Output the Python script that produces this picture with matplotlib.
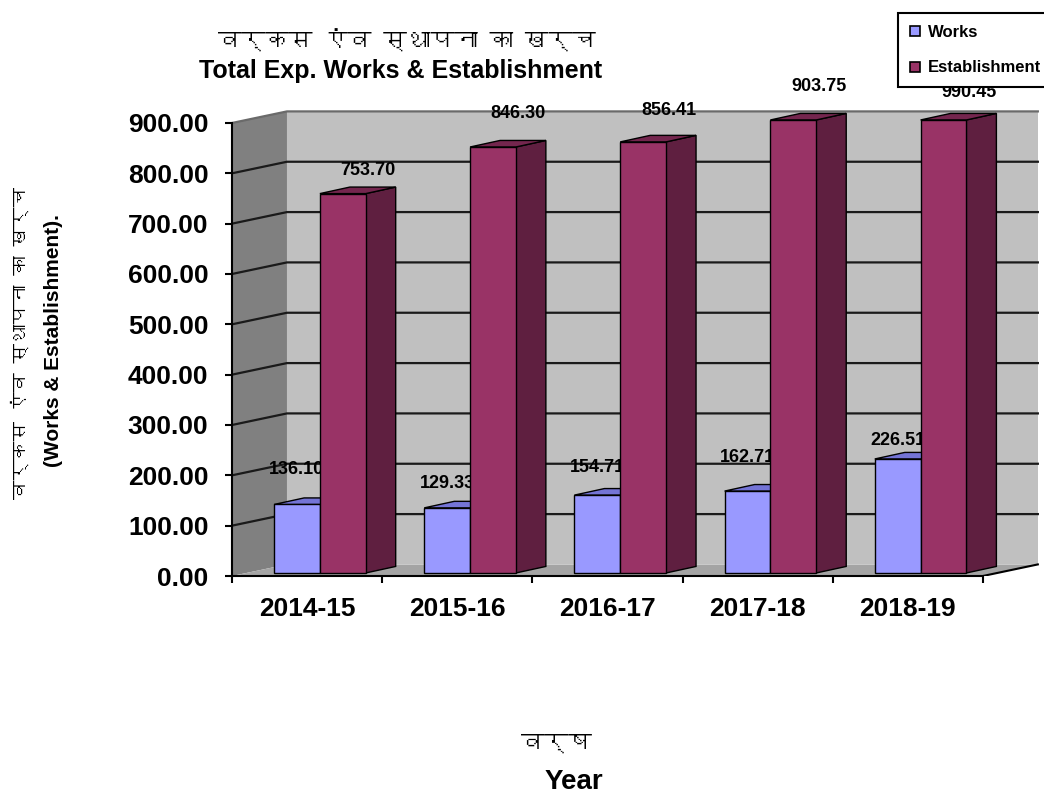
"""
Total expenditure on works and establishment, old Excel style 3d bars
"""

import numpy as np
import matplotlib
matplotlib.use('Agg')
import matplotlib.pyplot as plt
from matplotlib import font_manager
from matplotlib.ft2font import FT2Font
from matplotlib.patches import Polygon
from matplotlib.lines import Line2D


# -- data
years = ['2014-15', '2015-16', '2016-17', '2017-18', '2018-19']
works = [136.10, 129.33, 154.71, 162.71, 226.51]
establishment = [753.70, 846.30, 856.41, 903.75, 990.45]
y_ticks = [0, 100, 200, 300, 400, 500, 600, 700, 800, 900]

# label nudges above the drawn bar top (value units)
works_lbl_dy = [76, 54, 60, 72, 42]
est_lbl_dy = [51, 73, 68, 72, 60]


def find_font(ch):
  """
  first installed family that has a glyph for ch
  """
  for f in font_manager.fontManager.ttflist:
    try:
      if ord(ch) in FT2Font(f.fname).get_charmap():
        return f.name
    except Exception:
      pass
  return None


deva = find_font('\u0915')
hindi_family = [deva, 'DejaVu Sans'] if deva else ['DejaVu Sans']
plt.rcParams['font.family'] = ['Liberation Sans', 'DejaVu Sans']

# 3d look
y_max = 900
DX, DY = 0.366, 23        # depth of walls and floor
BDX, BDY = 0.2, 13        # depth of one bar
W = 0.305                 # bar width
c_works, c_works_dark = '#9999ff', '#7474d6'
c_est, c_est_top, c_est_side = '#993366', '#74264e', '#5f1f40'

fig = plt.figure(figsize=(10.44, 7.94), dpi=100)
ax = fig.add_axes([232 / 1044, 218 / 794, 809.6 / 1044, 465.6 / 794])
ax.set_xlim(0, 5 + DX + 0.025)
ax.set_ylim(0, 925)

# walls and floor
n = len(years)
ax.add_patch(Polygon([(DX, DY), (n + DX, DY), (n + DX, y_max + DY), (DX, y_max + DY)], fc='#c0c0c0', ec='none', zorder=0))
ax.add_patch(Polygon([(0, 0), (DX, DY), (DX, y_max + DY), (0, y_max)], fc='#808080', ec='none', zorder=0))
ax.add_patch(Polygon([(0, 0), (n, 0), (n + DX, DY), (DX, DY)], fc='#a4a4a4', ec='none', zorder=0))

# gridlines on side wall and back wall
for v in y_ticks[1:]:
  col = '#6a6a6a' if v == y_max else '#1a1a1a'
  ax.plot([0, DX, n + DX], [v, v + DY, v + DY], color=col, lw=1.6, zorder=1)

# front right floor edge
ax.plot([n, n + DX], [0, DY], color='black', lw=1.5, zorder=2)


def add_depth(p, c_top, c_side, z):
  """
  top and side face of a bar patch
  """
  x0, y0, w, h = p.get_x(), p.get_y(), p.get_width(), p.get_height()
  side = [(x0 + w, y0), (x0 + w + BDX, y0 + BDY), (x0 + w + BDX, y0 + h + BDY), (x0 + w, y0 + h)]
  top = [(x0, y0 + h), (x0 + w, y0 + h), (x0 + w + BDX, y0 + h + BDY), (x0 + BDX, y0 + h + BDY)]
  ax.add_patch(Polygon(side, fc=c_side, ec='black', lw=1, zorder=z))
  ax.add_patch(Polygon(top, fc=c_top, ec='black', lw=1, zorder=z))
  p.set_zorder(z + 0.01)


cats = np.arange(n)
works_h = np.minimum(works, y_max)
est_h = np.minimum(establishment, y_max)

wb = ax.bar(cats + 0.28, works_h, W, bottom=6, align='edge', color=c_works, edgecolor='black', lw=1)
eb = ax.bar(cats + 0.28 + W, est_h, W, bottom=6, align='edge', color=c_est, edgecolor='black', lw=1)

for i in range(n):
  add_depth(wb[i], c_works_dark, c_works_dark, 3 + 3 * i)
  add_depth(eb[i], c_est_top, c_est_side, 4.5 + 3 * i)

  # value labels, works label sits behind the establishment bar
  p = wb[i]
  ax.text(p.get_x() + W / 2, works_h[i] + works_lbl_dy[i], '{:.2f}'.format(works[i]),
          ha='center', va='center', fontsize=13, fontweight='bold', zorder=3.5 + 3 * i)
  p = eb[i]
  ax.text(p.get_x() + W / 2 + 0.17, est_h[i] + est_lbl_dy[i], '{:.2f}'.format(establishment[i]),
          ha='center', va='center', fontsize=13, fontweight='bold', zorder=30)

# axes
for s in ['top', 'right']:
  ax.spines[s].set_visible(False)
ax.spines['left'].set_bounds(0, y_max)
ax.spines['bottom'].set_bounds(0, n)
ax.spines['left'].set_linewidth(1.5)
ax.spines['bottom'].set_linewidth(1.5)

ax.set_yticks(y_ticks)
ax.set_yticklabels(['{:.2f}'.format(v) for v in y_ticks], fontsize=19, fontweight='bold')
ax.tick_params(axis='y', length=5, width=1.5, pad=12)

ax.set_xticks(np.arange(n + 1))
ax.set_xticklabels([])
ax.set_xticks(cats + 0.5, minor=True)
ax.set_xticklabels(years, minor=True, fontsize=19, fontweight='bold')
ax.tick_params(axis='x', which='major', length=5, width=1.5)
ax.tick_params(axis='x', which='minor', length=0, pad=15)

# titles
fig.text(407 / 1044, 1 - 40 / 794, 'वर्कस एंव स्थापना का खर्च', ha='center', va='center', fontsize=17, family=hindi_family)
fig.text(401 / 1044, 1 - 71 / 794, 'Total Exp. Works & Establishment', ha='center', va='center', fontsize=18, fontweight='bold')

fig.text(20 / 1044, 1 - 343 / 794, 'वर्कस एंव स्थापना का खर्च', ha='center', va='center', rotation=90, fontsize=14, family=hindi_family)
fig.text(54 / 1044, 1 - 341 / 794, '(Works & Establishment).', ha='center', va='center', rotation=90, fontsize=15, fontweight='bold')

fig.text(556 / 1044, 1 - 743 / 794, 'वर्ष', ha='center', va='center', fontsize=17, family=hindi_family)
fig.text(574 / 1044, 1 - 782 / 794, 'Year', ha='center', va='center', fontsize=20, fontweight='bold')

# legend
handles = [Line2D([], [], ls='none', marker='s', markersize=7, mfc=c_works, mec='black', mew=1.2),
           Line2D([], [], ls='none', marker='s', markersize=7, mfc=c_est, mec='black', mew=1.2)]
leg = fig.legend(handles, ['Works', 'Establishment'], loc='upper left', bbox_to_anchor=(898 / 1044, 1 - 13 / 794),
                 prop={'weight': 'bold', 'size': 12}, frameon=True, fancybox=False, framealpha=1, edgecolor='black',
                 borderpad=0.7, labelspacing=1.25, handlelength=0.6, handletextpad=0.5, borderaxespad=0)
leg.get_frame().set_linewidth(1.5)

fig.savefig('out.png', dpi=100)
